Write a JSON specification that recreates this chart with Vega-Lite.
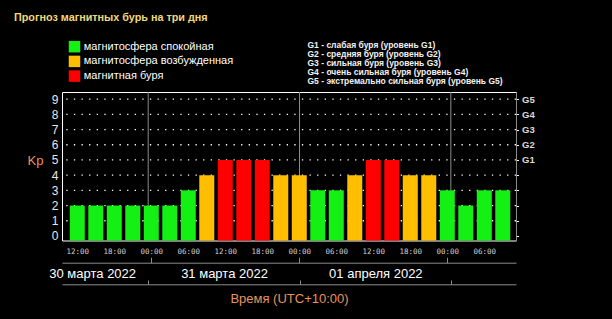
{
  "$schema": "https://vega.github.io/schema/vega-lite/v6.json",
  "width": 454,
  "height": 148.5,
  "autosize": {"type": "none"},
  "padding": {"left": 62, "top": 92, "right": 96, "bottom": 78.5},
  "background": "#000000",
  "config": {
    "view": {"stroke": "#ffffff", "strokeWidth": 1},
    "axis": {"labelFont": "Liberation Sans", "titleFont": "Liberation Sans"}
  },
  "title": {
    "text": "Прогноз магнитных бурь на три дня",
    "anchor": "start",
    "frame": "group",
    "dx": -48,
    "dy": -18,
    "offset": 0,
    "color": "#f0d878",
    "font": "Liberation Sans",
    "fontSize": 10.8,
    "fontWeight": "bold"
  },
  "datasets": {
    "bars": [
      {"t": "2022-03-30T12:00:00", "kp": 2, "state": "магнитосфера спокойная"},
      {"t": "2022-03-30T15:00:00", "kp": 2, "state": "магнитосфера спокойная"},
      {"t": "2022-03-30T18:00:00", "kp": 2, "state": "магнитосфера спокойная"},
      {"t": "2022-03-30T21:00:00", "kp": 2, "state": "магнитосфера спокойная"},
      {"t": "2022-03-31T00:00:00", "kp": 2, "state": "магнитосфера спокойная"},
      {"t": "2022-03-31T03:00:00", "kp": 2, "state": "магнитосфера спокойная"},
      {"t": "2022-03-31T06:00:00", "kp": 3, "state": "магнитосфера спокойная"},
      {"t": "2022-03-31T09:00:00", "kp": 4, "state": "магнитосфера возбужденная"},
      {"t": "2022-03-31T12:00:00", "kp": 5, "state": "магнитная буря"},
      {"t": "2022-03-31T15:00:00", "kp": 5, "state": "магнитная буря"},
      {"t": "2022-03-31T18:00:00", "kp": 5, "state": "магнитная буря"},
      {"t": "2022-03-31T21:00:00", "kp": 4, "state": "магнитосфера возбужденная"},
      {"t": "2022-04-01T00:00:00", "kp": 4, "state": "магнитосфера возбужденная"},
      {"t": "2022-04-01T03:00:00", "kp": 3, "state": "магнитосфера спокойная"},
      {"t": "2022-04-01T06:00:00", "kp": 3, "state": "магнитосфера спокойная"},
      {"t": "2022-04-01T09:00:00", "kp": 4, "state": "магнитосфера возбужденная"},
      {"t": "2022-04-01T12:00:00", "kp": 5, "state": "магнитная буря"},
      {"t": "2022-04-01T15:00:00", "kp": 5, "state": "магнитная буря"},
      {"t": "2022-04-01T18:00:00", "kp": 4, "state": "магнитосфера возбужденная"},
      {"t": "2022-04-01T21:00:00", "kp": 4, "state": "магнитосфера возбужденная"},
      {"t": "2022-04-02T00:00:00", "kp": 3, "state": "магнитосфера спокойная"},
      {"t": "2022-04-02T03:00:00", "kp": 2, "state": "магнитосфера спокойная"},
      {"t": "2022-04-02T06:00:00", "kp": 3, "state": "магнитосфера спокойная"},
      {"t": "2022-04-02T09:00:00", "kp": 3, "state": "магнитосфера спокойная"}
    ],
    "days": [
      {"t": "2022-03-31T00:00:00"},
      {"t": "2022-04-01T00:00:00"},
      {"t": "2022-04-02T00:00:00"}
    ],
    "levels": [
      {"kp": 1, "g": ""},
      {"kp": 2, "g": ""},
      {"kp": 3, "g": ""},
      {"kp": 4, "g": ""},
      {"kp": 5, "g": "G1 - слабая буря (уровень G1)"},
      {"kp": 6, "g": "G2 - средняя буря (уровень G2)"},
      {"kp": 7, "g": "G3 - сильная буря (уровень G3)"},
      {"kp": 8, "g": "G4 - очень сильная буря (уровень G4)"},
      {"kp": 9, "g": "G5 - экстремально сильная буря (уровень G5)"}
    ]
  },
  "layer": [
    {
      "data": {"name": "levels"},
      "mark": {"type": "rule", "color": "#ffffff", "opacity": 1, "strokeWidth": 1.3},
      "encoding": {
        "y": {
          "field": "kp",
          "type": "quantitative",
          "scale": {"domain": [-0.3, 9.47], "nice": false, "zero": false},
          "axis": {
            "orient": "right",
            "values": [0, 1, 2, 3, 4, 5, 6, 7, 8, 9],
            "labelExpr": "datum.value >= 5 ? 'G' + (datum.value - 4) : ''",
            "domainColor": "#8c8c8c",
            "tickColor": "#ffffff",
            "tickSize": 2.5,
            "labelPadding": 3,
            "labelColor": "#d8d8d8",
            "labelFontSize": 9.5,
            "labelFontWeight": "bold",
            "grid": false,
            "title": null
          }
        },
        "strokeDash": {
          "field": "g",
          "type": "nominal",
          "scale": {"range": [[1.3, 6.3]]},
          "legend": {
            "orient": "none",
            "legendX": 237,
            "legendY": -51.5,
            "title": null,
            "values": [
              "G1 - слабая буря (уровень G1)",
              "G2 - средняя буря (уровень G2)",
              "G3 - сильная буря (уровень G3)",
              "G4 - очень сильная буря (уровень G4)",
              "G5 - экстремально сильная буря (уровень G5)"
            ],
            "symbolOpacity": 0,
            "symbolStrokeWidth": 0,
            "symbolSize": 0,
            "labelOffset": 0,
            "labelFont": "Liberation Sans",
            "labelFontSize": 8.5,
            "labelFontWeight": "bold",
            "labelColor": "#f2f2f2",
            "labelLimit": 400,
            "rowPadding": 0,
            "padding": 0
          }
        }
      }
    },
    {
      "data": {"name": "days"},
      "mark": {"type": "rule", "color": "#8c8c8c", "strokeWidth": 1},
      "encoding": {
        "x": {
          "field": "t",
          "type": "temporal",
          "scale": {
            "domain": [
              {"year": 2022, "month": 3, "date": 30, "hours": 10, "minutes": 20},
              {"year": 2022, "month": 4, "date": 2, "hours": 10, "minutes": 20}
            ],
            "nice": false
          },
          "axis": {
            "orient": "top",
            "offset": -192.3,
            "values": [
              {"year": 2022, "month": 3, "date": 31},
              {"year": 2022, "month": 4, "date": 1},
              {"year": 2022, "month": 4, "date": 2}
            ],
            "domainColor": "#8c8c8c",
            "tickColor": "#8c8c8c",
            "tickSize": 4.3,
            "labelExpr": "date(datum.value) == 31 ? '30 марта 2022' : date(datum.value) == 1 ? '31 марта 2022' : '01 апреля 2022'",
            "labelOffset": {"condition": {"test": "date(datum.value) == 31", "value": -56}, "value": -75.5},
            "labelBaseline": "middle",
            "labelPadding": 7,
            "labelColor": "#ffffff",
            "labelFontSize": 13,
            "labelFlush": false,
            "labelOverlap": false,
            "grid": false,
            "title": "Время (UTC+10:00)",
            "titleY": 14,
            "titleBaseline": "middle",
            "titleColor": "#e8935a",
            "titleFontSize": 13,
            "titleFontWeight": "normal"
          }
        }
      }
    },
    {
      "data": {"name": "bars"},
      "mark": {"type": "bar", "width": 15},
      "encoding": {
        "x": {
          "field": "t",
          "type": "temporal",
          "scale": {
            "domain": [
              {"year": 2022, "month": 3, "date": 30, "hours": 10, "minutes": 20},
              {"year": 2022, "month": 4, "date": 2, "hours": 10, "minutes": 20}
            ],
            "nice": false
          },
          "axis": {
            "orient": "top",
            "offset": -170.7,
            "values": [
              {"year": 2022, "month": 3, "date": 30, "hours": 12},
              {"year": 2022, "month": 3, "date": 30, "hours": 18},
              {"year": 2022, "month": 3, "date": 31, "hours": 0},
              {"year": 2022, "month": 3, "date": 31, "hours": 6},
              {"year": 2022, "month": 3, "date": 31, "hours": 12},
              {"year": 2022, "month": 3, "date": 31, "hours": 18},
              {"year": 2022, "month": 4, "date": 1, "hours": 0},
              {"year": 2022, "month": 4, "date": 1, "hours": 6},
              {"year": 2022, "month": 4, "date": 1, "hours": 12},
              {"year": 2022, "month": 4, "date": 1, "hours": 18},
              {"year": 2022, "month": 4, "date": 2, "hours": 0},
              {"year": 2022, "month": 4, "date": 2, "hours": 6}
            ],
            "format": "%H:%M",
            "domainColor": "#8c8c8c",
            "tickColor": "#8c8c8c",
            "tickSize": 5.4,
            "tickOpacity": {"condition": {"test": "hours(datum.value) == 0", "value": 1}, "value": 0},
            "labelFont": "DejaVu Sans Mono",
            "labelFontSize": 7.5,
            "labelColor": "#d0d0d0",
            "labelBaseline": "middle",
            "labelPadding": 5.6,
            "labelFlush": false,
            "labelOverlap": false,
            "grid": false,
            "title": null
          }
        },
        "y": {
          "field": "kp",
          "type": "quantitative",
          "scale": {"domain": [-0.3, 9.47], "nice": false, "zero": false},
          "axis": {
            "orient": "left",
            "values": [0, 1, 2, 3, 4, 5, 6, 7, 8, 9],
            "ticks": false,
            "domain": false,
            "grid": false,
            "labelColor": "#e8e8e8",
            "labelFontSize": 12,
            "labelPadding": 4,
            "title": "Kp",
            "titleAngle": 0,
            "titleX": -27,
            "titleY": 68,
            "titleAlign": "center",
            "titleBaseline": "middle",
            "titleColor": "#e8935a",
            "titleFontSize": 13,
            "titleFontWeight": "normal"
          }
        },
        "y2": {"datum": -0.3},
        "color": {
          "field": "state",
          "type": "nominal",
          "scale": {
            "domain": ["магнитосфера спокойная", "магнитосфера возбужденная", "магнитная буря"],
            "range": ["#14f014", "#ffbf00", "#ff0000"]
          },
          "legend": {
            "orient": "none",
            "legendX": 6.5,
            "legendY": -51.3,
            "title": null,
            "symbolType": "square",
            "symbolSize": 132,
            "symbolStrokeWidth": 0,
            "symbolOpacity": 1,
            "labelColor": "#ffffff",
            "labelFont": "Liberation Sans",
            "labelFontSize": 11,
            "labelOffset": 3.3,
            "rowPadding": 2.7,
            "padding": 0,
            "labelLimit": 300
          }
        }
      }
    }
  ],
  "resolve": {"scale": {"x": "independent", "y": "independent"}}
}
